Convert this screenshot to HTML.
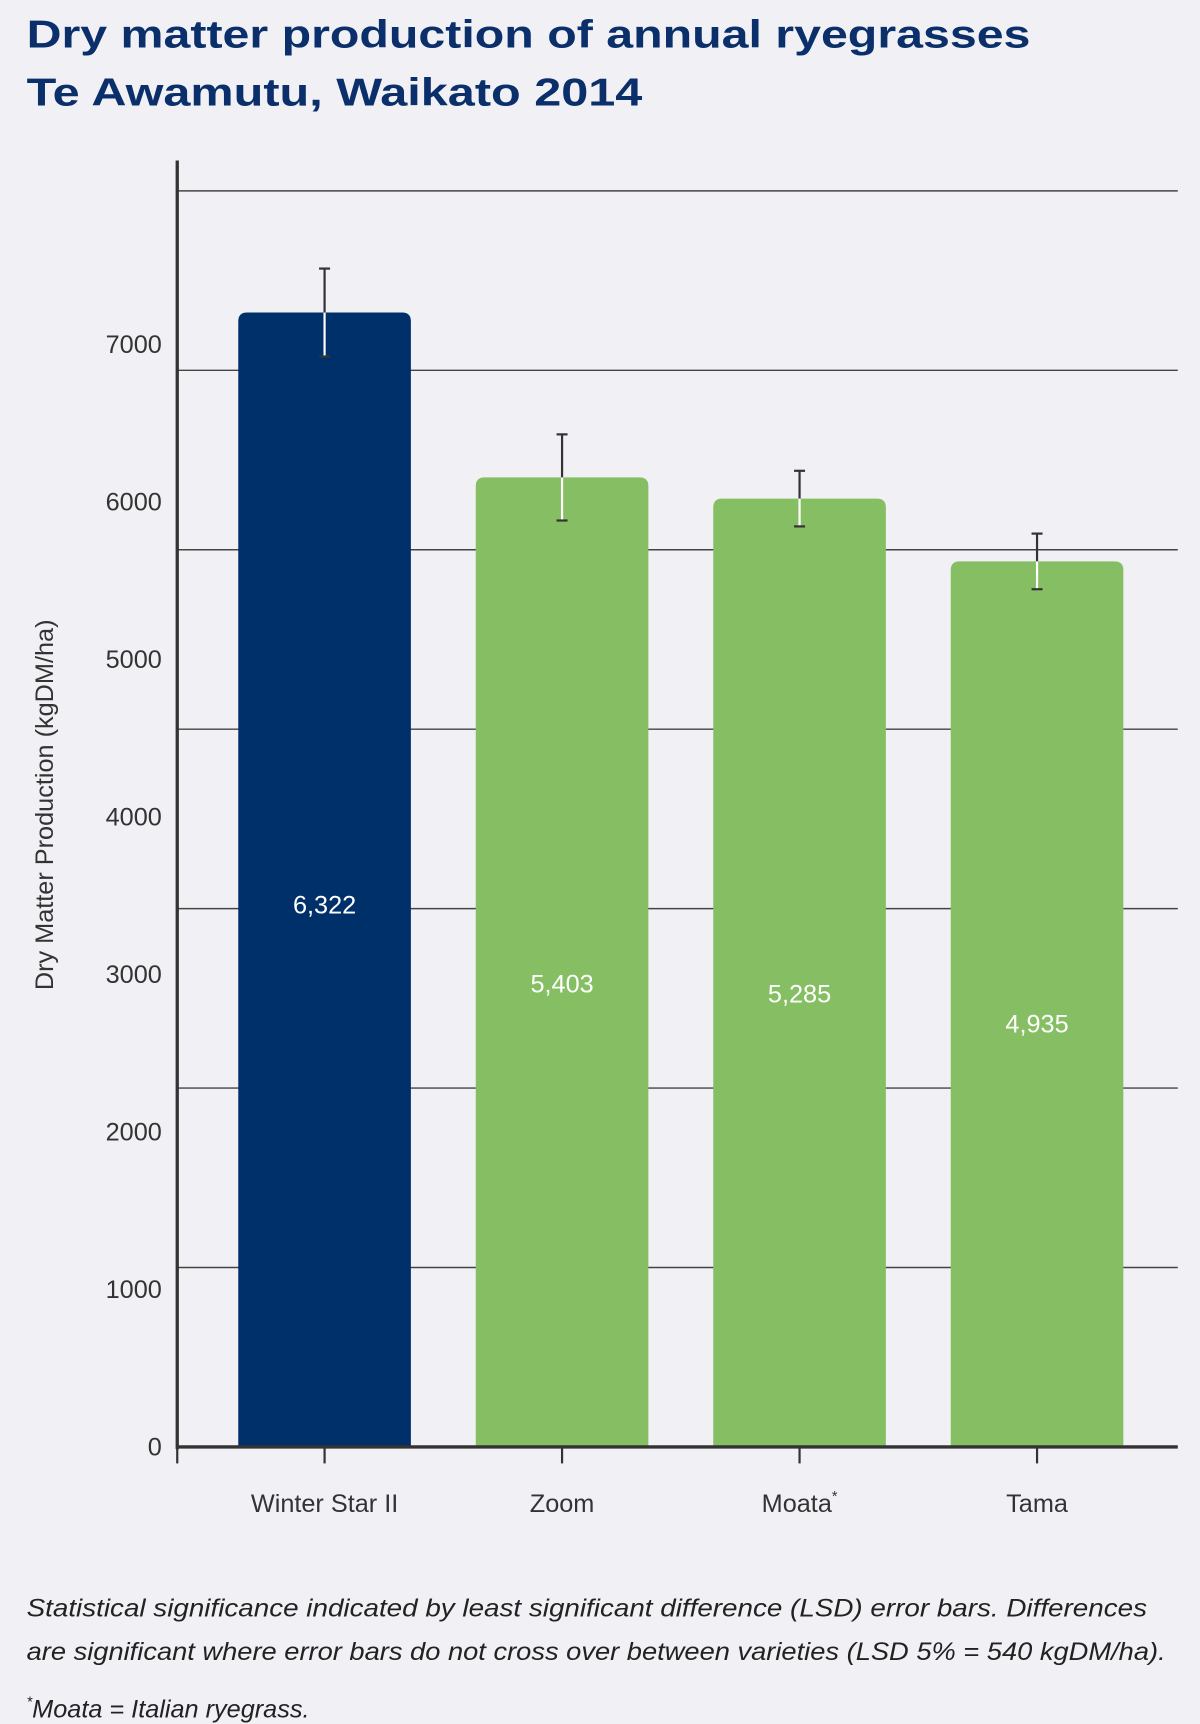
<!DOCTYPE html>
<html><head><meta charset="utf-8"><style>
html,body{margin:0;padding:0;background:#f1f1f5;}
svg{display:block;font-family:"Liberation Sans",sans-serif;}
</style></head><body>
<svg id="chart" width="1200" height="1724" viewBox="0 0 1091 1568" xmlns="http://www.w3.org/2000/svg">
<rect width="1091" height="1568" fill="#f1f1f5"/>
<g fill="#0a2f6b" font-weight="bold" font-size="35">
<text x="24" y="43" textLength="913" lengthAdjust="spacingAndGlyphs">Dry matter production of annual ryegrasses</text>
<text x="24" y="96" textLength="560" lengthAdjust="spacingAndGlyphs">Te Awamutu, Waikato 2014</text>
</g>
<g id="grid"></g>
<g id="ylabels" font-size="23" fill="#333" text-anchor="end"></g>
<text transform="translate(48,732) rotate(-90)" text-anchor="middle" font-size="23" fill="#333">Dry Matter Production (kgDM/ha)</text>
<g id="bars"></g>
<line x1="161" y1="146" x2="161" y2="1318" stroke="#333" stroke-width="3"/>
<line x1="160" y1="1316" x2="1071" y2="1316" stroke="#333" stroke-width="3"/>
<g id="xlabels" font-size="23" fill="#333" text-anchor="middle"></g>
<g font-size="23" font-style="italic" fill="#222">
<text x="24" y="1470" textLength="1019" lengthAdjust="spacingAndGlyphs">Statistical significance indicated by least significant difference (LSD) error bars. Differences</text>
<text x="24" y="1510" textLength="1036" lengthAdjust="spacingAndGlyphs">are significant where error bars do not cross over between varieties (LSD 5% = 540 kgDM/ha).</text>
<text x="24" y="1562"><tspan font-size="13" dy="-10">*</tspan><tspan dy="10">Moata = Italian ryegrass.</tspan></text>
</g>
</svg>
<script>
const categories = ["Winter Star II","Zoom","Moata","Tama"];
const values = [6322,5403,5285,4935];
const errors = [245,240,155,155];
const valueLabels = ["6,322","5,403","5,285","4,935"];
const gridValues = [1000,2000,3000,4000,5000,6000,7000];
const tickLabels = [0,1000,2000,3000,4000,5000,6000,7000];
const NS="http://www.w3.org/2000/svg";
const y0=1316, pxPer=163.2/1000, labelPer=143.3/1000;
const y=v=>y0-v*pxPer;
const yl=v=>y0-v*labelPer;
const x=i=>295+i*216;
const bw=157;
function mk(tag,attrs,parent){const e=document.createElementNS(NS,tag);for(const k in attrs)e.setAttribute(k,attrs[k]);parent.appendChild(e);return e;}
const grid=document.getElementById('grid');
gridValues.forEach(v=>{const l=mk('line',{x1:161,x2:1071,y1:y(v),y2:y(v),stroke:'#444','stroke-width':1.3},grid);

});
const yg=document.getElementById('ylabels');
tickLabels.forEach(v=>{const t=mk('text',{x:147,y:yl(v)+8},yg);t.textContent=v;

});
const bars=document.getElementById('bars');
const xg=document.getElementById('xlabels');
values.forEach((v,i)=>{
const cx=x(i), top=y(v), h=y0-top, r=8, l=cx-bw/2;
const p=mk('path',{d:`M${l},${y0}V${top+r}Q${l},${top} ${l+r},${top}H${l+bw-r}Q${l+bw},${top} ${l+bw},${top+r}V${y0}Z`,fill:i===0?'#003069':'#86bf63'},bars);


const et=y(v+errors[i]), eb=y(v-errors[i]);
const e1=mk('line',{x1:cx,x2:cx,y1:et,y2:top,stroke:'#333','stroke-width':2},bars);


const e2=mk('line',{x1:cx,x2:cx,y1:top,y2:eb,stroke:'#fff','stroke-width':2},bars);


const c1=mk('line',{x1:cx-5,x2:cx+5,y1:et,y2:et,stroke:'#333','stroke-width':2},bars);


const c2=mk('line',{x1:cx-5,x2:cx+5,y1:eb,y2:eb,stroke:'#333','stroke-width':2},bars);


const vt=mk('text',{x:cx,y:top+h*0.522+8,'text-anchor':'middle','font-size':23,fill:'#fff'},bars);
vt.textContent=valueLabels[i];


const tk=mk('line',{x1:cx,x2:cx,y1:y0,y2:y0+15,stroke:'#333','stroke-width':2},xg);


const xt=mk('text',{x:cx,y:1375},xg);
xt.textContent=categories[i];
if(categories[i]==='Moata'){const s=mk('tspan',{'font-size':13,dy:-10},xt);s.textContent='*';}


});
const t0=mk('line',{x1:161,x2:161,y1:y0,y2:y0+15,stroke:'#333','stroke-width':2},xg);


</script>
</body></html>
